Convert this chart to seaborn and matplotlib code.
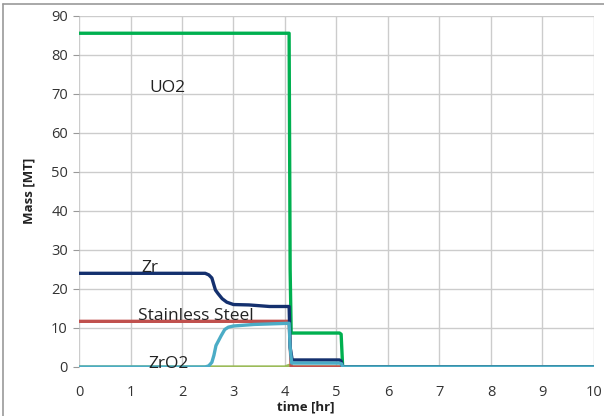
import matplotlib
matplotlib.use("Agg")
import matplotlib.pyplot as plt
import seaborn as sns
import pandas as pd
from matplotlib.lines import Line2D

# Core material inventory over time [hr] -> mass [MT]
uo2_t = [0, 4.08, 4.10, 4.12, 5.06, 5.09, 5.12, 10]
uo2_m = [85.5, 85.5, 25.0, 8.7, 8.7, 8.4, 0.0, 0.0]

zr_t = [0, 2.45, 2.52, 2.58, 2.62, 2.65, 2.70, 2.78, 2.87, 3.0, 3.3, 3.7, 4.08, 4.10, 4.14, 5.06, 5.09, 5.12, 10]
zr_m = [24.0, 24.0, 23.6, 22.8, 21.0, 19.7, 18.8, 17.5, 16.6, 16.0, 15.9, 15.5, 15.5, 5.0, 1.8, 1.8, 1.5, 0.0, 0.0]

ss_t = [0, 4.08, 4.12, 10]
ss_m = [11.7, 11.7, 0.0, 0.0]

zro2_t = [0, 2.45, 2.52, 2.58, 2.62, 2.66, 2.70, 2.76, 2.83, 2.90, 3.0, 3.4, 4.08, 4.10, 4.13, 5.06, 5.10, 5.12, 10]
zro2_m = [0.0, 0.0, 0.3, 1.2, 3.0, 5.5, 6.5, 8.0, 9.6, 10.2, 10.5, 10.9, 11.2, 5.0, 1.0, 1.0, 0.8, 0.0, 0.0]

other_t = [0, 4.0, 4.08, 4.14, 10]
other_m = [0.0, 0.0, 0.4, 0.0, 0.0]

labels = ["UO2", "Zr", "Stainless Steel", "ZrO2"]
label_xy = [(1.36, 71.4), (1.22, 25.3), (1.15, 13.0), (1.34, 0.8)]

frames = []
for name, t, m in [("Other", other_t, other_m), ("Stainless Steel", ss_t, ss_m),
                   ("UO2", uo2_t, uo2_m), ("Zr", zr_t, zr_m), ("ZrO2", zro2_t, zro2_m)]:
    frames.append(pd.DataFrame({"time": t, "mass": m, "material": name}))
df = pd.concat(frames, ignore_index=True)

palette = {"UO2": "#00B050", "Zr": "#14306E", "Stainless Steel": "#C0504D",
           "ZrO2": "#4BACC6", "Other": "#9BBB59"}

sns.set_theme(style="whitegrid")
plt.rcParams["font.family"] = ["Open Sans", "DejaVu Sans"]

fig = plt.figure(figsize=(6.04, 4.16), dpi=100)
ax = fig.add_axes([0.1308, 0.1178, 0.8526, 0.8445])

order = ["Other", "Stainless Steel", "UO2", "Zr", "ZrO2"]
for name in order:
    sub = df[df["material"] == name]
    sns.lineplot(data=sub, x="time", y="mass", ax=ax, color=palette[name],
                 linewidth=2.4, sort=False, estimator=None, legend=False)

ax.set_xlim(0, 10)
ax.set_ylim(0, 90)
ax.set_xticks(range(0, 11))
ax.set_yticks(range(0, 91, 10))
ax.grid(True, color="#CCCCCC", linewidth=1.0)
for s in ax.spines.values():
    s.set_visible(False)
ax.tick_params(axis="both", labelsize=10.5, colors="#333333")
ax.tick_params(axis="x", pad=7)
ax.tick_params(axis="y", length=4, width=0.8, color="#999999", left=True, pad=4)
ax.set_xlabel("time [hr]", fontsize=9.5, fontweight="bold", color="#222222")
ax.xaxis.set_label_coords(0.44, -0.095)
ax.set_ylabel("Mass [MT]", fontsize=9.5, fontweight="bold", color="#222222")
ax.yaxis.set_label_coords(-0.085, 0.5)

for text, (x, y) in zip(labels, label_xy):
    ax.text(x, y, text, fontsize=12.5, color="#222222", va="center", ha="left")

# outer frame on the left and top
fig.add_artist(Line2D([0.005, 0.005], [0.0, 0.99], color="#999999", linewidth=1.2,
                      transform=fig.transFigure))
fig.add_artist(Line2D([0.005, 1.0], [0.99, 0.99], color="#999999", linewidth=1.2,
                      transform=fig.transFigure))

fig.savefig("out.png", dpi=100)
